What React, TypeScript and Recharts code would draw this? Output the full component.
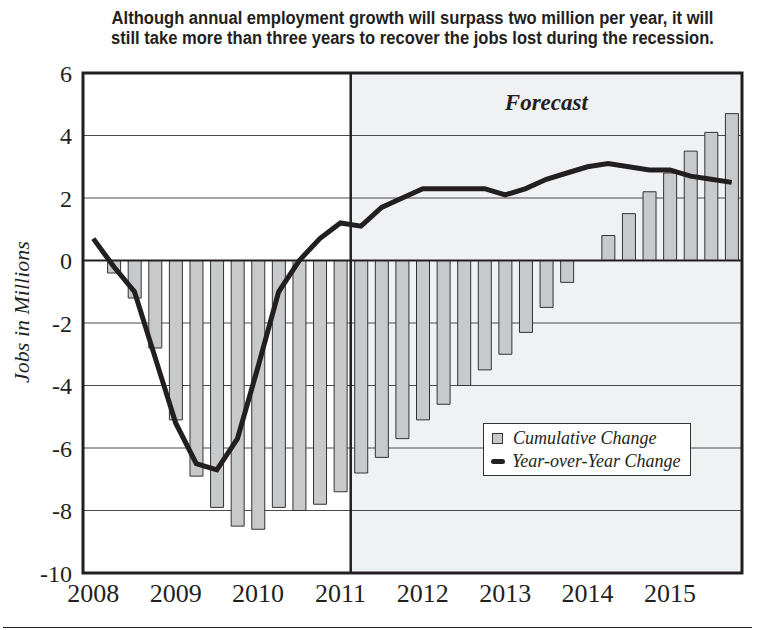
import React from 'react';
import { ComposedChart, Bar, Line, XAxis, YAxis, CartesianGrid, ReferenceArea, ReferenceLine, Legend } from 'recharts';

const quarters = [
  '2008Q1', '2008Q2', '2008Q3', '2008Q4',
  '2009Q1', '2009Q2', '2009Q3', '2009Q4',
  '2010Q1', '2010Q2', '2010Q3', '2010Q4',
  '2011Q1', '2011Q2', '2011Q3', '2011Q4',
  '2012Q1', '2012Q2', '2012Q3', '2012Q4',
  '2013Q1', '2013Q2', '2013Q3', '2013Q4',
  '2014Q1', '2014Q2', '2014Q3', '2014Q4',
  '2015Q1', '2015Q2', '2015Q3', '2015Q4',
];

// jobs in millions, cumulative since the 2008 peak
const cumulativeChange = [
  0, -0.4, -1.2, -2.8,
  -5.1, -6.9, -7.9, -8.5,
  -8.6, -7.9, -8.0, -7.8,
  -7.4, -6.8, -6.3, -5.7,
  -5.1, -4.6, -4.0, -3.5,
  -3.0, -2.3, -1.5, -0.7,
  0, 0.8, 1.5, 2.2,
  2.8, 3.5, 4.1, 4.7,
];

const yearOverYear = [
  0.7, -0.2, -1.0, -3.1,
  -5.2, -6.5, -6.7, -5.7,
  -3.4, -1.0, 0.0, 0.7,
  1.2, 1.1, 1.7, 2.0,
  2.3, 2.3, 2.3, 2.3,
  2.1, 2.3, 2.6, 2.8,
  3.0, 3.1, 3.0, 2.9,
  2.9, 2.7, 2.6, 2.5,
];

const yearTicks = ['2008Q1', '2009Q1', '2010Q1', '2011Q1', '2012Q1', '2013Q1', '2014Q1', '2015Q1'];
const yTicks = [-10, -8, -6, -4, -2, 0, 2, 4, 6];
const forecastStart = '2011Q2';
const lastQuarter = '2015Q4';

const data = quarters.map((q, i) => ({ quarter: q, cumulative: cumulativeChange[i], yoy: yearOverYear[i] }));

const ink = '#231f20';
const serif = "'Liberation Serif', 'Times New Roman', serif";

const renderLegend = (props: any) => {
  const items = props.payload ?? [];
  return (
    <div className="legend-box">
      {items.map((item: any) => (
        <div key={item.value} className="legend-row">
          <span className={item.type === 'line' ? 'swatch-line' : 'swatch-box'} />
          <span>{item.value}</span>
        </div>
      ))}
    </div>
  );
};

const App: React.FC = () => {
  return (
    <div className="chart-page">
      <ComposedChart width={757} height={630} data={data} margin={{ top: 73, right: 15, bottom: 17, left: 23 }}>
        <ReferenceArea
          x1={forecastStart}
          x2={lastQuarter}
          y1={-10}
          y2={6}
          fill="#f0f1f3"
          fillOpacity={1}
          stroke="none"
          zIndex={-150}
          label={{ value: 'Forecast', position: 'insideTop', offset: 21, fill: ink, fontSize: 23, fontWeight: 'bold', fontStyle: 'italic', fontFamily: serif }}
        />
        <CartesianGrid vertical={false} stroke="#4a4a4a" strokeWidth={1} />
        <XAxis
          dataKey="quarter"
          ticks={yearTicks}
          interval={0}
          tickFormatter={(v: string) => v.slice(0, 4)}
          tickLine={false}
          axisLine={false}
          tickSize={0}
          tickMargin={11}
          height={40}
          tick={{ fontSize: 26, fill: ink, fontFamily: serif }}
        />
        <YAxis
          domain={[-10, 6]}
          ticks={yTicks}
          width={60}
          allowDataOverflow
          tickLine={false}
          axisLine={false}
          tickSize={0}
          tickMargin={11}
          tick={{ fontSize: 24, fill: ink, fontFamily: serif }}
          label={{ value: 'Jobs in Millions', angle: -90, position: 'center', dx: -32, dy: -11, fill: ink, fontSize: 22, fontStyle: 'italic', fontFamily: serif }}
        />
        <Legend
          layout="vertical"
          verticalAlign="middle"
          align="center"
          content={renderLegend}
          wrapperStyle={{ left: 483, top: 423, width: 208, height: 53 }}
        />
        <Bar
          dataKey="cumulative"
          name="Cumulative Change"
          legendType="square"
          barSize={13}
          fill="#c8c9cb"
          stroke="#333"
          strokeWidth={1}
          isAnimationActive={false}
        />
        <ReferenceLine y={0} stroke={ink} strokeWidth={2} />
        <ReferenceLine x={forecastStart} position="start" stroke={ink} strokeWidth={2.5} />
        <Line
          type="linear"
          dataKey="yoy"
          name="Year-over-Year Change"
          legendType="line"
          stroke={ink}
          strokeWidth={5}
          dot={false}
          isAnimationActive={false}
        />
        <ReferenceArea y1={-10} y2={6} fill="none" stroke={ink} strokeWidth={3} zIndex={900} ifOverflow="visible" />
      </ComposedChart>

      <div className="chart-title">
        <span>Although annual employment growth will surpass two million per year, it will</span>
        <span>still take more than three years to recover the jobs lost during the recession.</span>
      </div>
      <div className="bottom-rule" />

      <style>{`
        body { margin: 0; }
        .chart-page { position: relative; width: 757px; height: 630px; background: #fff; }
        .chart-title { position: absolute; top: 8px; left: 83px; width: 659px; text-align: center; color: ${ink};
          font-family: 'Liberation Sans', Arial, sans-serif; font-weight: bold; font-size: 18px; line-height: 20px; }
        .chart-title span { display: block; white-space: nowrap; transform: scaleX(0.92); transform-origin: center; }
        .bottom-rule { position: absolute; top: 627px; left: 3px; width: 749px; border-top: 1.5px solid ${ink}; }
        .legend-box { box-sizing: border-box; width: 208px; height: 53px; border: 1px solid #333; background: #fff; padding: 3px 0 0 7px;
          font-family: ${serif}; font-style: italic; font-size: 18px; color: ${ink}; }
        .legend-row { display: flex; align-items: center; height: 23px; white-space: nowrap; }
        .swatch-box { display: inline-block; box-sizing: border-box; width: 11px; height: 11px; margin: 0 10px 0 1px; background: #c8c9cb; border: 1px solid #333; }
        .swatch-line { display: inline-block; width: 14px; height: 5px; margin-right: 7px; border-radius: 3px; background: ${ink}; }
      `}</style>
    </div>
  );
};

export default App;
